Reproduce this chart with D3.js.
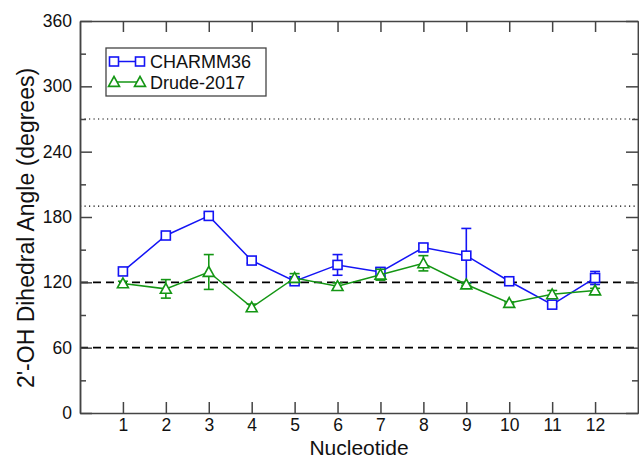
<!DOCTYPE html>
<html>
<head>
<meta charset="utf-8">
<script src="https://cdn.jsdelivr.net/npm/d3@7"></script>
<style>
  body { margin: 0; background: #fff; }
  text { font-family: 'Liberation Sans', Arial, sans-serif; }
</style>
</head>
<body>
<div id="chart"></div>
<script>
// data
const nucleotides = [1, 2, 3, 4, 5, 6, 7, 8, 9, 10, 11, 12];
const charmmMean = [130, 163, 181, 140, 121, 136, 129.5, 152, 144.5, 121, 99.5, 124];
const charmmErr  = [2.5, 2.5, 2.5, 2.5, 2, 9.5, 4, 3, 25, 2, 2, 6];
const drudeMean  = [119, 114, 129.5, 97, 124, 116.5, 127, 137.5, 118, 101, 109, 112.5];
const drudeErr   = [2, 8.5, 16, 3, 4, 3, 5, 7, 1, 1, 3.5, 2];
const refDashed  = [60, 120];
const refDotted  = [190, 270];
const yTicks = [0, 60, 120, 180, 240, 300, 360];

const W = 639, H = 459;
const margin = { top: 21, right: 1, bottom: 46, left: 80 };

const svg = d3.select('#chart').append('svg')
  .attr('width', W)
  .attr('height', H);

const x = d3.scaleLinear().domain([0, 13]).range([margin.left, W - margin.right]);
const y = d3.scaleLinear().domain([0, 360]).range([H - margin.bottom, margin.top]);

const axisColor = '#444';

// reference lines
refDashed.forEach(v => {
  svg.append('line')
    .attr('x1', x(0)).attr('x2', x(13))
    .attr('y1', y(v)).attr('y2', y(v))
    .attr('stroke', '#000').attr('stroke-width', 1.6)
    .attr('stroke-dasharray', '8,5');
});
refDotted.forEach(v => {
  svg.append('line')
    .attr('x1', x(0)).attr('x2', x(13))
    .attr('y1', y(v)).attr('y2', y(v))
    .attr('stroke', '#000').attr('stroke-width', 1.2)
    .attr('stroke-dasharray', '1.2,3.3');
});

// axes (ticks inward, mirrored on top/right)
svg.append('g')
  .attr('transform', 'translate(0,' + y(0) + ')')
  .call(d3.axisBottom(x).tickValues(nucleotides).tickSizeInner(-11).tickSizeOuter(0).tickPadding(6));
svg.append('g')
  .attr('transform', 'translate(0,' + y(360) + ')')
  .call(d3.axisTop(x).tickValues(nucleotides).tickSizeInner(-11).tickSizeOuter(0).tickFormat(''));
svg.append('g')
  .attr('transform', 'translate(' + x(0) + ',0)')
  .call(d3.axisLeft(y).tickValues(yTicks).tickSizeInner(-12).tickSizeOuter(0).tickPadding(8));
svg.append('g')
  .attr('transform', 'translate(' + x(13) + ',0)')
  .call(d3.axisRight(y).tickValues(yTicks).tickSizeInner(-12).tickSizeOuter(0).tickFormat(''));

// minor y ticks
const minorY = d3.range(30, 360, 60);
svg.append('g')
  .attr('transform', 'translate(' + x(0) + ',0)')
  .call(d3.axisLeft(y).tickValues(minorY).tickSizeInner(-6).tickSizeOuter(0).tickFormat(''));
svg.append('g')
  .attr('transform', 'translate(' + x(13) + ',0)')
  .call(d3.axisRight(y).tickValues(minorY).tickSizeInner(-6).tickSizeOuter(0).tickFormat(''));

svg.selectAll('.domain, .tick line')
  .attr('stroke', axisColor)
  .attr('stroke-width', 1.5);
svg.selectAll('.tick text')
  .attr('fill', '#111')
  .style('font-size', '17.5px');

// axis titles
svg.append('text')
  .attr('x', (x(0) + x(13)) / 2)
  .attr('y', 454.5)
  .attr('text-anchor', 'middle')
  .style('font-size', '21px')
  .attr('fill', '#111')
  .text('Nucleotide');
svg.append('text')
  .attr('transform', 'translate(34,228) rotate(-90)')
  .attr('text-anchor', 'middle')
  .style('font-size', '23px')
  .attr('fill', '#111')
  .text('2\'-OH Dihedral Angle (degrees)');

// series
const series = [
  { name: 'CHARMM36', mean: charmmMean, err: charmmErr, color: '#1414f5', shape: 'square' },
  { name: 'Drude-2017', mean: drudeMean, err: drudeErr, color: '#149614', shape: 'triangle' }
];

const drawMarker = (g, shape, cx, cy, color) => {
  if (shape === 'square') {
    g.append('rect')
      .attr('x', cx - 4.5).attr('y', cy - 4.5)
      .attr('width', 9).attr('height', 9)
      .attr('fill', '#fff').attr('stroke', color).attr('stroke-width', 1.6);
  } else {
    const r = 5.5;
    g.append('path')
      .attr('d', 'M' + cx + ',' + (cy - r) + 'L' + (cx + r) + ',' + (cy + r * 0.8) + 'L' + (cx - r) + ',' + (cy + r * 0.8) + 'Z')
      .attr('fill', '#fff').attr('stroke', color).attr('stroke-width', 1.6);
  }
};

series.forEach(s => {
  const g = svg.append('g');
  const pts = nucleotides.map((n, i) => ({ n, v: s.mean[i], e: s.err[i] }));
  // error bars
  pts.forEach(p => {
    g.append('line')
      .attr('x1', x(p.n)).attr('x2', x(p.n))
      .attr('y1', y(p.v - p.e)).attr('y2', y(p.v + p.e))
      .attr('stroke', s.color).attr('stroke-width', 1.6);
    [p.v - p.e, p.v + p.e].forEach(v => {
      g.append('line')
        .attr('x1', x(p.n) - 5).attr('x2', x(p.n) + 5)
        .attr('y1', y(v)).attr('y2', y(v))
        .attr('stroke', s.color).attr('stroke-width', 1.6);
    });
  });
  const line = d3.line().x(d => x(d.n)).y(d => y(d.v));
  g.append('path')
    .datum(pts)
    .attr('d', line)
    .attr('fill', 'none')
    .attr('stroke', s.color)
    .attr('stroke-width', 1.5);
  pts.forEach(p => drawMarker(g, s.shape, x(p.n), y(p.v), s.color));
});

// legend
const legend = svg.append('g');
legend.append('rect')
  .attr('x', 106).attr('y', 48)
  .attr('width', 160).attr('height', 48)
  .attr('fill', '#fff').attr('stroke', axisColor).attr('stroke-width', 1.3);
series.forEach((s, i) => {
  const ly = 61.5 + i * 20.5;
  legend.append('line')
    .attr('x1', 114).attr('x2', 140)
    .attr('y1', ly).attr('y2', ly)
    .attr('stroke', s.color).attr('stroke-width', 1.5);
  drawMarker(legend, s.shape, 114, ly, s.color);
  drawMarker(legend, s.shape, 140, ly, s.color);
  legend.append('text')
    .attr('x', 150).attr('y', ly + 6.5)
    .style('font-size', '18px')
    .attr('fill', '#111')
    .text(s.name);
});
</script>
</body>
</html>
